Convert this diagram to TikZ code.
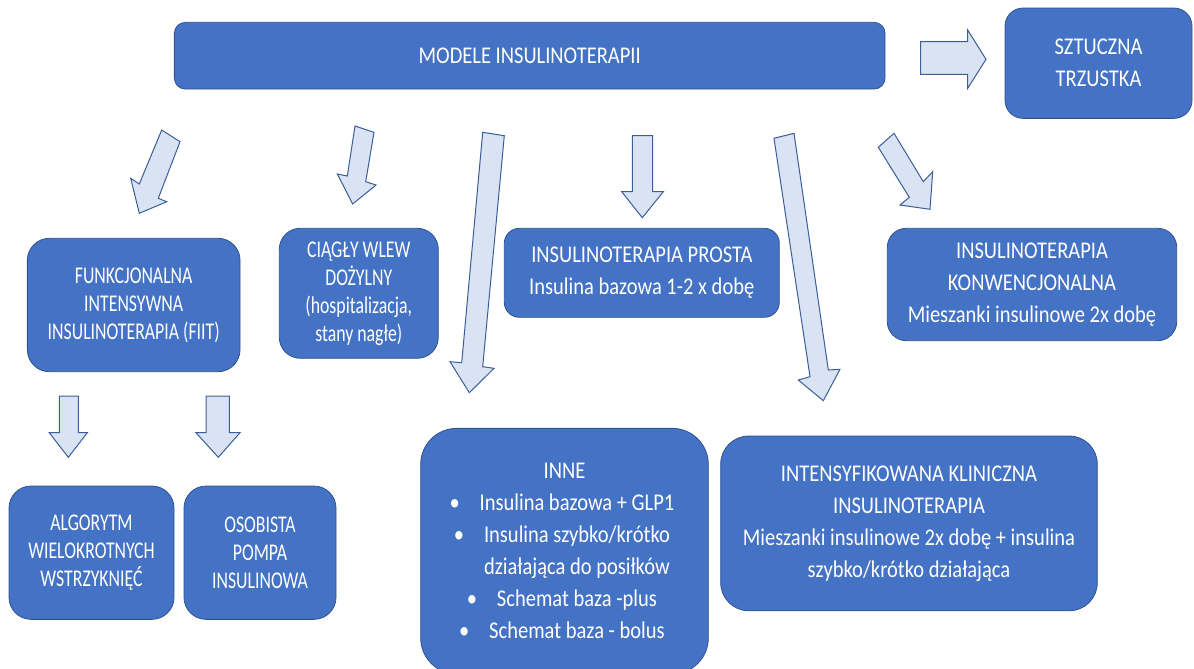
\documentclass[tikz,border=0pt]{standalone}
\usepackage{fontspec}
\setmainfont{Carlito}[FakeStretch=0.855]
\newfontfamily\narrowfont{Carlito}[FakeStretch=0.74]
\definecolor{boxblue}{HTML}{4472C4}
\definecolor{boxedge}{HTML}{2F528F}
\definecolor{arrowfill}{HTML}{DAE3F3}
\definecolor{arrowedge}{HTML}{3A5E9C}
\begin{document}
\begin{tikzpicture}[x=1pt,y=-1pt,
  box/.style={draw=boxedge, line width=0.8pt, fill=boxblue, text=white, align=center,
    inner sep=0pt, font=\fontsize{24}{32}\selectfont},
  nbox/.style={box, font=\narrowfont\fontsize{24}{28}\selectfont},
  barrow/.style={draw=arrowedge, fill=arrowfill, line width=1pt, line join=miter}]
\useasboundingbox (0,0) rectangle (1194,669);
\clip (0,0) rectangle (1194,669);

% boxes
\node[box, minimum width=710.7pt, minimum height=66.7pt, rounded corners=11pt] (modele) at (529.7,55.7) {MODELE INSULINOTERAPII};
\node[box, minimum width=187pt, minimum height=110.3pt, rounded corners=18pt] (sztuczna) at (1098.5,63.2) {SZTUCZNA\\TRZUSTKA};
\node[nbox, minimum width=212.7pt, minimum height=133.4pt, rounded corners=22pt] (fiit) at (133.7,305) {FUNKCJONALNA\\INTENSYWNA\\INSULINOTERAPIA (FIIT)};
\node[nbox, minimum width=159pt, minimum height=130pt, rounded corners=21pt] (ciagly) at (358.8,293.3) {CIĄGŁY WLEW\\DOŻYLNY\\(hospitalizacja,\\stany nagłe)};
\node[box, minimum width=275pt, minimum height=89pt, rounded corners=15pt] (prosta) at (641.8,272.8) {INSULINOTERAPIA PROSTA\\Insulina bazowa 1-2 x dobę};
\node[box, minimum width=289.4pt, minimum height=112.4pt, rounded corners=19pt] (konw) at (1032,284.5) {INSULINOTERAPIA\\KONWENCJONALNA\\Mieszanki insulinowe 2x dobę};
\node[nbox, minimum width=165pt, minimum height=133.3pt, rounded corners=22pt] (algorytm) at (91.5,552.7) {ALGORYTM\\WIELOKROTNYCH\\WSTRZYKNIĘĆ};
\node[nbox, minimum width=152pt, minimum height=133.3pt, rounded corners=22pt] (osobista) at (260,552.7) {OSOBISTA\\POMPA\\INSULINOWA};
\node[box, minimum width=287.6pt, minimum height=245.7pt, rounded corners=36pt] (inne) at (564.5,551.2) {INNE\\
\makebox[0pt]{•}\hspace{25pt}Insulina bazowa + GLP1\\
\makebox[0pt]{•}\hspace{25pt}Insulina szybko/krótko\\
\makebox[0pt][l]{\hspace{25pt}działająca do posiłków}\hspace{25pt}\hphantom{Insulina szybko/krótko}\\
\makebox[0pt]{•}\hspace{25pt}Schemat baza -plus\\
\makebox[0pt]{•}\hspace{25pt}Schemat baza - bolus};
\node[box, minimum width=376.6pt, minimum height=174.7pt, rounded corners=28pt] (intens) at (909,523.4) {INTENSYFIKOWANA KLINICZNA\\INSULINOTERAPIA\\Mieszanki insulinowe 2x dobę + insulina\\szybko/krótko działająca};

% block arrows
\draw[barrow] (920.7,41.7) -- (967.7,41.7) -- (967.7,30) -- (986,59.3) -- (967.7,88.3) -- (967.7,74.3) -- (920.7,74.3) -- cycle;
\draw[barrow] (161.7,130) -- (139.3,184) -- (130.7,178.3) -- (139.3,213.3) -- (166.7,201.7) -- (158.3,198.3) -- (180,141.7) -- cycle;
\draw[barrow] (355,126) -- (347.3,176) -- (337.3,174) -- (352.7,204) -- (376,185) -- (365.7,181.7) -- (374,132.3) -- cycle;
\draw[barrow] (482.7,132.3) -- (461.7,362.7) -- (450,361.7) -- (469.3,392.7) -- (494,368.3) -- (482.7,366.7) -- (504.3,135.7) -- cycle;
\draw[barrow] (632.3,135.7) -- (632.3,191.7) -- (621.7,191.7) -- (642.3,217.7) -- (663.3,191.7) -- (652.7,191.7) -- (652.7,135.7) -- cycle;
\draw[barrow] (774,138.3) -- (810,376.7) -- (798.3,380) -- (823.3,400.7) -- (840,369.3) -- (828.3,370) -- (794,133.3) -- cycle;
\draw[barrow] (878.3,147.3) -- (909.3,197.3) -- (900,205) -- (930,209.3) -- (932.7,171.7) -- (923.3,181.7) -- (894,133.3) -- cycle;
\draw[barrow] (59.3,396) -- (59.3,432.7) -- (49.3,432.7) -- (68.3,457.3) -- (87.3,432.7) -- (78.3,432.7) -- (78.3,396) -- cycle;
\draw[barrow] (206,396) -- (206,432.7) -- (196,432.7) -- (218.3,457.3) -- (240,432.7) -- (229.3,432.7) -- (229.3,396) -- cycle;
\end{tikzpicture}
\end{document}
